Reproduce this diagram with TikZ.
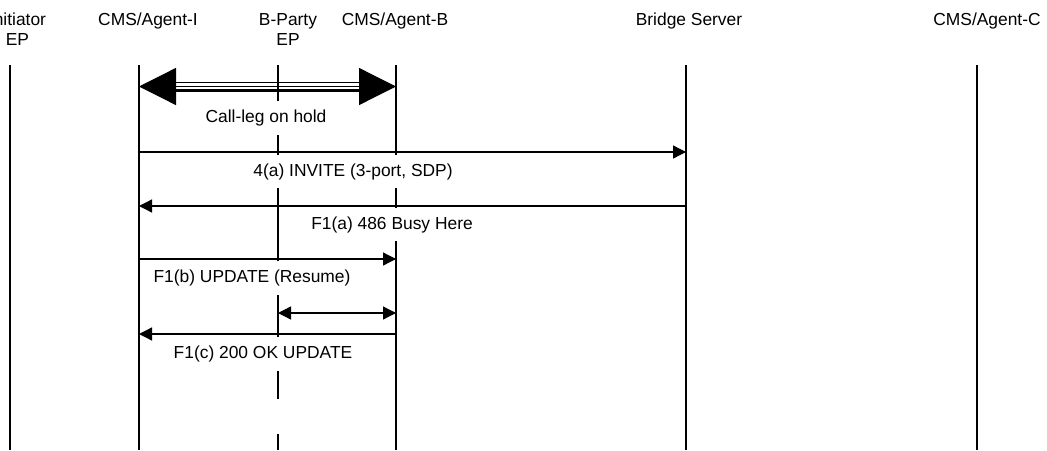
\documentclass[tikz,border=0pt]{standalone}
\usepackage{fontspec}
\setmainfont{Liberation Sans}
\usetikzlibrary{arrows.meta}
\begin{document}
\begin{tikzpicture}[x=1pt,y=-1pt,
  life/.style={line width=1.25pt},
  msg/.style={line width=1.25pt,-{Triangle[length=13pt,width=13pt]}},
  dmsg/.style={line width=1.25pt,{Triangle[length=13pt,width=13pt]}-{Triangle[length=13pt,width=13pt]}},
  bigarrow/.style={line width=1.25pt,{Triangle[length=37pt,width=37pt]}-{Triangle[length=37pt,width=37pt]}},
  lbl/.style={fill=white,inner xsep=3pt,inner ysep=8.5pt,font=\fontsize{17.4}{20}\selectfont},
  head/.style={align=center,font=\fontsize{17.4}{20}\selectfont,inner sep=0pt}]
\useasboundingbox (0,0) rectangle (1047,450);

% lifeline ends
\coordinate (initT) at (10,65);   \coordinate (initB) at (10,450);
\coordinate (agiT) at (139,65);   \coordinate (agiB) at (139,450);
\coordinate (bpT) at (278,65);    \coordinate (bpM) at (278,399);
\coordinate (bpN) at (278,434);   \coordinate (bpB) at (278,450);
\coordinate (agbT) at (396,65);   \coordinate (agbB) at (396,450);
\coordinate (brT) at (686,65);    \coordinate (brB) at (686,450);
\coordinate (agcT) at (977,65);   \coordinate (agcB) at (977,450);

% headers
\node[head] (hinit) at (17.5,29.5) {Initiator\\EP};
\node[head] (hagi) at (148,21) {CMS/Agent-I};
\node[head] (hbp) at (288,29.5) {B-Party\\EP};
\node[head] (hagb) at (395,21) {CMS/Agent-B};
\node[head] (hbr) at (689,21) {Bridge Server};
\node[head] (hagc) at (987,21) {CMS/Agent-C};

% lifelines
\draw[life] (initT) -- (initB);
\draw[life] (agiT) -- (agiB);
\draw[life] (bpT) -- (bpM);
\draw[life] (bpN) -- (bpB);
\draw[life] (agbT) -- (agbB);
\draw[life] (brT) -- (brB);
\draw[life] (agcT) -- (agcB);

% labels
\node[lbl] (tHold) at (266,118) {Call-leg on hold};
\node[lbl] (tInv) at (353,171.5) {4(a) INVITE (3-port, SDP)};
\node[lbl] (tBusy) at (392,224.5) {F1(a) 486 Busy Here};
\node[lbl] (tUpd) at (252,278) {F1(b) UPDATE (Resume)};
\node[lbl] (tOk) at (263,354) {F1(c) 200 OK UPDATE};

% call-leg on hold (triple line double arrow)
\coordinate (hL) at (139,86.5); \coordinate (hR) at (396,86.5);
\coordinate (hL1) at (176,82.5); \coordinate (hR1) at (359,82.5);
\coordinate (hL2) at (176,90.5); \coordinate (hR2) at (359,90.5);
\draw[bigarrow] (hL) -- (hR);
\draw[line width=1.25pt] (hL1) -- (hR1);
\draw[line width=2.6pt] (hL2) -- (hR2);

% messages
\coordinate (m1a) at (139,152); \coordinate (m1b) at (686,152);
\coordinate (m2a) at (686,206); \coordinate (m2b) at (139,206);
\coordinate (m3a) at (139,259); \coordinate (m3b) at (396,259);
\coordinate (m4a) at (278,313); \coordinate (m4b) at (396,313);
\coordinate (m5a) at (396,334); \coordinate (m5b) at (139,334);
\draw[msg] (m1a) -- (m1b);
\draw[msg] (m2a) -- (m2b);
\draw[msg] (m3a) -- (m3b);
\draw[dmsg] (m4a) -- (m4b);
\draw[msg] (m5a) -- (m5b);
\end{tikzpicture}
\end{document}
